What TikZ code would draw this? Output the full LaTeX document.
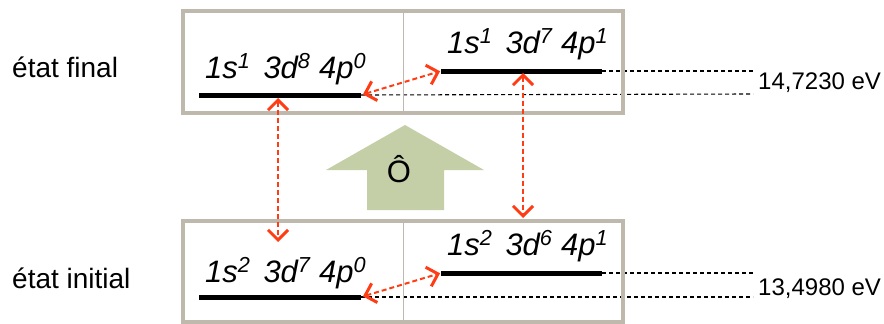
\documentclass[tikz,border=0pt]{standalone}
\usepackage{fontspec}
\setmainfont{Liberation Sans}
\usetikzlibrary{arrows.meta}
\definecolor{boxgray}{RGB}{191,184,173}
\definecolor{arrowred}{RGB}{255,60,20}
\definecolor{opgreen}{RGB}{196,207,168}

\begin{document}
\begin{tikzpicture}
  [
    x=1pt, y=-1pt,
    frame/.style={
       draw=boxgray,
       line width=4pt,
       inner sep=0pt
    },
    midline/.style={
       draw=boxgray,
       line width=0.6pt
    },
    level/.style={
       draw=black,
       line width=5pt
    },
    guide/.style={
       draw=black,
       line width=1.1pt,
       dash pattern=on 4pt off 3pt
    },
    trans/.style={
       draw=arrowred,
       line width=2pt,
       dash pattern=on 5pt off 3pt,
       {Straight Barb[length=10pt,width=20pt,line width=3pt]}-{Straight Barb[length=10pt,width=20pt,line width=3pt]}
    },
    config/.style={
       anchor=base west,
       inner sep=0pt,
       font=\fontsize{31}{34}\selectfont\itshape
    },
    state/.style={
       anchor=base west,
       inner sep=0pt,
       font=\fontsize{28}{32}\selectfont
    },
    energy/.style={
       anchor=west,
       inner sep=0pt,
       font=\fontsize{24}{28}\selectfont
    }
  ]
  \useasboundingbox (0,0) rectangle (884,324);

  % level end points
  \coordinate (fin1w) at (199,95);
  \coordinate (fin1e) at (361,95);
  \coordinate (fin2w) at (441,71);
  \coordinate (fin2e) at (602,71);
  \coordinate (ini1w) at (199,297);
  \coordinate (ini1e) at (361,297);
  \coordinate (ini2w) at (441,273);
  \coordinate (ini2e) at (602,273);
  \coordinate (fin1x) at (753,94);
  \coordinate (fin2x) at (753,71);
  \coordinate (ini1x) at (753,297);
  \coordinate (ini2x) at (753,273);

  \draw [guide] (fin2e) -- (fin2x);
  \draw [guide] (fin1e) -- (fin1x);
  \draw [guide] (ini2e) -- (ini2x);
  \draw [guide] (ini1e) -- (ini1x);

  \node (finbox) at (403,62)    [frame, minimum width=440, minimum height=102] {};
  \node (inibox) at (403,271.5) [frame, minimum width=440, minimum height=101] {};
  \draw [midline] (finbox.north) -- (finbox.south);
  \draw [midline] (inibox.north) -- (inibox.south);

  \draw [level] (fin1w) -- (fin1e);
  \draw [level] (fin2w) -- (fin2e);
  \draw [level] (ini1w) -- (ini1e);
  \draw [level] (ini2w) -- (ini2e);

  \node (cfin1) at (205,78)  [config] {1s\textsuperscript{1}\hspace{13pt}3d\textsuperscript{8} 4p\textsuperscript{0}};
  \node (cfin2) at (447,53)  [config] {1s\textsuperscript{1}\hspace{13pt}3d\textsuperscript{7} 4p\textsuperscript{1}};
  \node (cini1) at (205,282) [config] {1s\textsuperscript{2}\hspace{13pt}3d\textsuperscript{7} 4p\textsuperscript{0}};
  \node (cini2) at (447,255) [config] {1s\textsuperscript{2}\hspace{13pt}3d\textsuperscript{6} 4p\textsuperscript{1}};

  \node (sfin) at (12,77)  [state] {état final};
  \node (sini) at (12,288) [state] {état initial};

  \node (efin) at (758,83)  [energy] {14,7230 eV};
  \node (eini) at (758,289) [energy] {13,4980 eV};

  % operator arrow
  \fill [opgreen] (405,125) -- (484,170) -- (444,170) -- (444,210)
        -- (367,210) -- (367,170) -- (326,170) -- cycle;
  \node (op) at (399,169) [font=\fontsize{31}{34}\selectfont] {Ô};

  \coordinate (fin1m) at (278,98);
  \coordinate (ini1m) at (278,242);
  \coordinate (fin2m) at (523,73);
  \coordinate (ini2m) at (523,218);

  \draw [trans, shorten <=2pt, shorten >=1pt] (fin1e) -- (fin2w);
  \draw [trans, shorten <=2pt, shorten >=1pt] (ini1e) -- (ini2w);
  \draw [trans] (fin1m) -- (ini1m);
  \draw [trans] (fin2m) -- (ini2m);
\end{tikzpicture}
\end{document}
